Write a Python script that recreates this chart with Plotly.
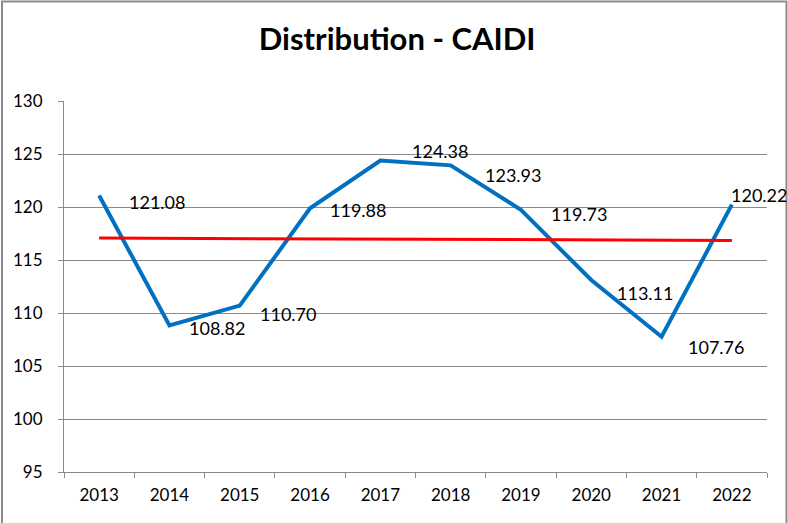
import plotly.graph_objects as go

# values
years = ["2013", "2014", "2015", "2016", "2017", "2018", "2019", "2020", "2021", "2022"]
caidi = [121.08, 108.82, 110.70, 119.88, 124.38, 123.93, 119.73, 113.11, 107.76, 120.22]
label_text = ["121.08", "108.82", "110.70", "119.88", "124.38", "123.93", "119.73", "113.11", "107.76", "120.22"]
trend_years = ["2013", "2022"]
trend_values = [117.07, 116.85]
y_ticks = [95, 100, 105, 110, 115, 120, 125, 130]

# label offsets in pixels (Excel had them nudged around)
x_shift = [28, 18, 18, 18, 30, 32, 28, 24, 24, -3]
y_shift = [-6, -2, -8, -2, 10, -10, -4, -13, -10, 10]

FONT = "Lato, Open Sans, sans-serif"
GRID = "#8a8a8a"

fig = go.Figure()
fig.add_trace(go.Scatter(x=years, y=caidi, mode="lines",
                         line=dict(color="#0070C0", width=4), showlegend=False))
fig.add_trace(go.Scatter(x=trend_years, y=trend_values, mode="lines",
                         line=dict(color="#FF0000", width=3), showlegend=False))

# annotations on a category axis with year-like names: use the category index
for i in range(len(years)):
    fig.add_annotation(x=years.index(years[i]), y=caidi[i], text=label_text[i],
                       showarrow=False, xanchor="left", yanchor="middle",
                       xshift=x_shift[i], yshift=y_shift[i],
                       font=dict(family=FONT, size=18, color="black"))

fig.update_layout(
    width=788, height=523,
    margin=dict(l=64, r=21, t=101, b=51),
    paper_bgcolor="white", plot_bgcolor="white",
    title=dict(text="<b>Distribution - CAIDI</b>", x=0.504, xanchor="center",
               y=0.925, yanchor="middle", yref="container",
               font=dict(family=FONT, size=31, color="black")),
    xaxis=dict(type="category", tickson="boundaries", ticks="outside", ticklen=5,
               tickcolor=GRID, showgrid=False, showline=True, linecolor=GRID,
               ticklabelstandoff=8,
               tickfont=dict(family=FONT, size=17, color="black"),
               range=[-0.5, 9.5]),
    yaxis=dict(range=[95, 130], tickvals=y_ticks, ticks="outside", ticklen=5,
               tickcolor=GRID, showgrid=True, gridcolor=GRID, gridwidth=1,
               showline=True, linecolor=GRID, zeroline=False,
               ticklabelstandoff=12,
               tickfont=dict(family=FONT, size=17, color="black")),
    shapes=[dict(type="rect", xref="paper", yref="paper",
                 x0=-0.0882, x1=1.0277, y0=-0.145, y1=1.268,
                 line=dict(color="#8c8c8c", width=2), fillcolor="rgba(0,0,0,0)")],
)

fig.write_html("out.html", config={"displayModeBar": False},
               post_script="document.body.style.margin='0';")
